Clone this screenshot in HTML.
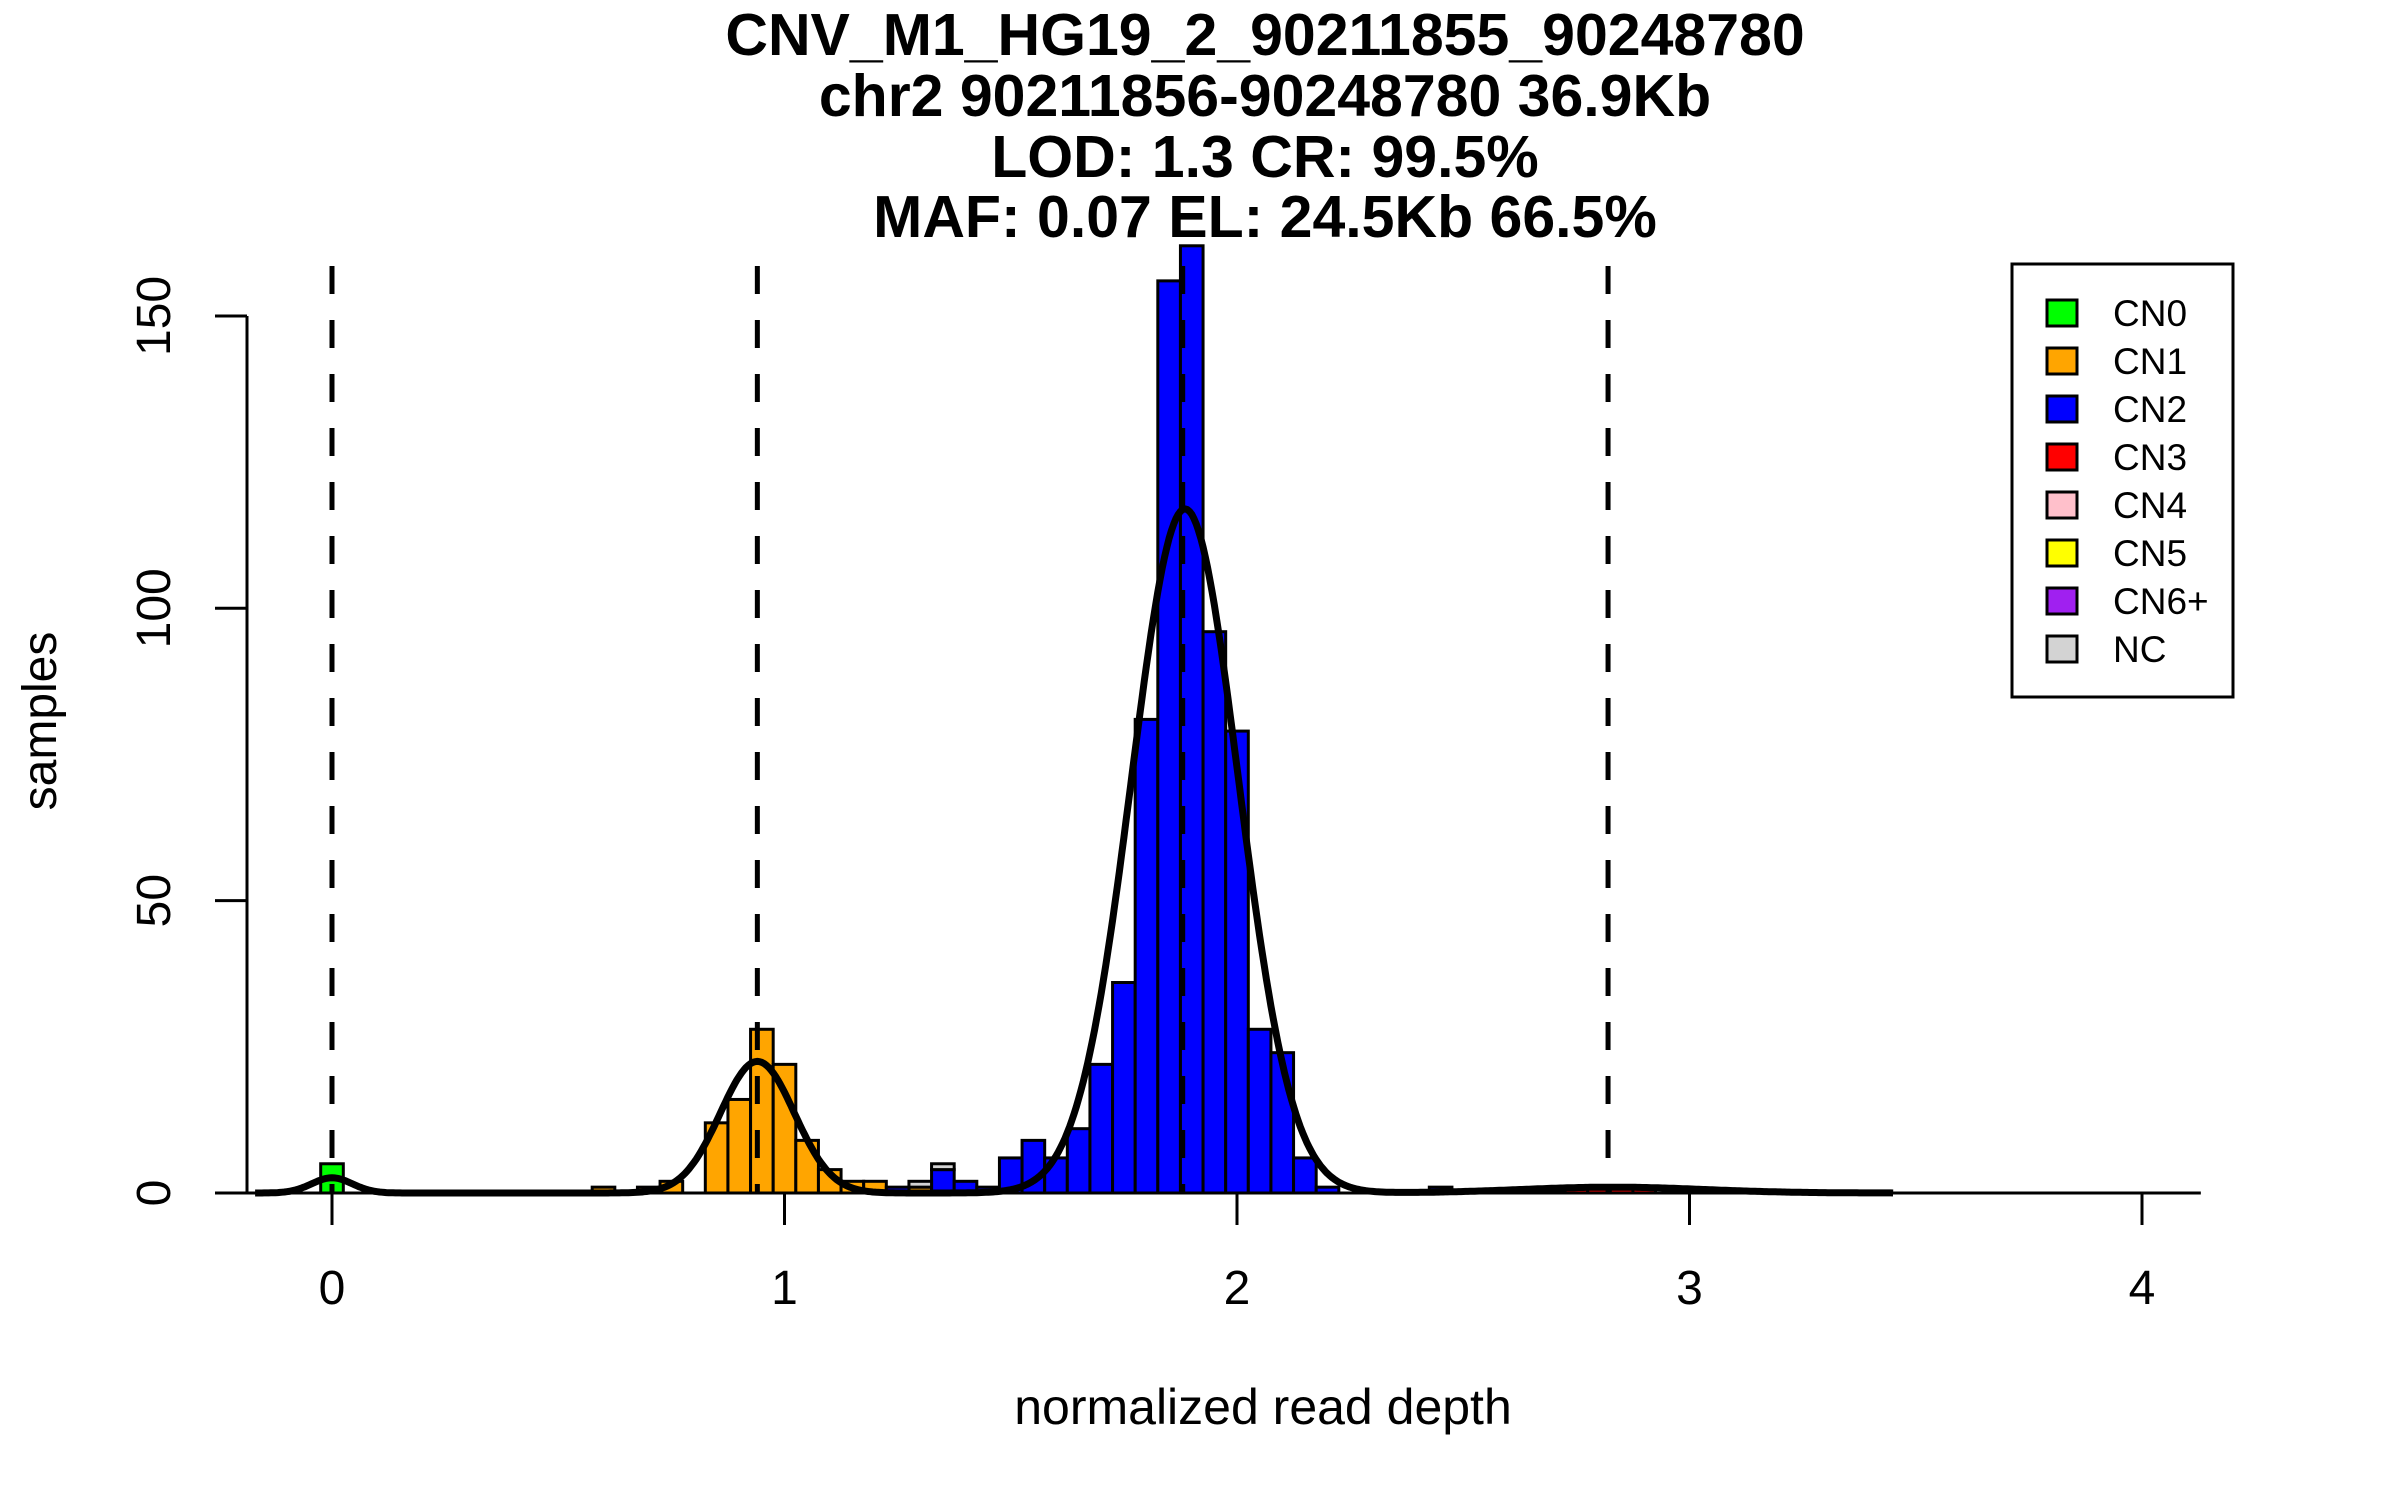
<!DOCTYPE html>
<html><head><meta charset="utf-8"><style>
html,body{margin:0;padding:0;background:#fff;}
svg{display:block;font-family:"Liberation Sans",sans-serif;}
</style></head><body>
<svg id="chart" width="2400" height="1500" viewBox="0 0 2400 1500" xmlns="http://www.w3.org/2000/svg">
<rect width="2400" height="1500" fill="#fff"/>
<g font-weight="bold" font-size="59" text-anchor="middle" fill="#000">
<text x="1265" y="55">CNV_M1_HG19_2_90211855_90248780</text>
<text x="1265" y="116">chr2 90211856-90248780 36.9Kb</text>
<text x="1265" y="177">LOD: 1.3 CR: 99.5%</text>
<text x="1265" y="237">MAF: 0.07 EL: 24.5Kb 66.5%</text>
</g>
<g id="bars"></g>
<g id="vlines"></g>
<g id="curve"></g>
<g id="axes"></g>
<text x="1263" y="1424" font-size="50" text-anchor="middle">normalized read depth</text>
<text transform="translate(56,721) rotate(-90)" font-size="48" text-anchor="middle">samples</text>
<g id="legend">
<rect x="2012" y="264" width="221" height="433" fill="#fff" stroke="#000" stroke-width="3"/>
</g>
</svg>
<script>
// ---- data ----
const binWidth = 0.05;
const cn0Bins = [0.0];
const cn0Counts = [5];
const cn1Bins = [0.6, 0.7, 0.75, 0.85, 0.9, 0.95, 1.0, 1.05, 1.1, 1.15, 1.2, 1.3];
const cn1Counts = [1, 1, 2, 12, 16, 28, 22, 9, 4, 2, 2, 1];
const cn2Bins = [1.25, 1.35, 1.4, 1.45, 1.5, 1.55, 1.6, 1.65, 1.7, 1.75, 1.8, 1.85, 1.9, 1.95, 2.0, 2.05, 2.1, 2.15, 2.2, 2.45];
const cn2Counts = [1, 4, 2, 1, 6, 9, 6, 11, 22, 36, 81, 156, 162, 96, 79, 28, 24, 6, 1, 1];
const cn3Bins = [2.75, 2.8, 2.85, 2.9];
const cn3Counts = [1, 1, 1, 1];
const ncBins = [1.3, 1.35];
const ncCounts = [1, 1];
const densMeans = [0.0, 0.94, 1.885, 2.83];
const densSds = [0.045, 0.082, 0.118, 0.2];
const densPeaks = [2.6, 22.5, 117, 1.0];
const cnLines = [0.0, 0.94, 1.88, 2.82];
const xTicks = [0, 1, 2, 3, 4];
const yTicks = [0, 50, 100, 150];
const legendLabels = ["CN0","CN1","CN2","CN3","CN4","CN5","CN6+","NC"];
const legendColors = ["#00FF00","#FFA500","#0000FF","#FF0000","#FFC0CB","#FFFF00","#A020F0","#D3D3D3"];

// ---- scales ----
const NS = "http://www.w3.org/2000/svg";
function X(v){ return 332 + 452.5 * v; }
function Y(v){ return 1193 - 5.847 * v; }
function mk(tag, attrs, parent){
  const e = document.createElementNS(NS, tag);
  for (const k in attrs) e.setAttribute(k, attrs[k]);
  parent.appendChild(e); return e;
}

// ---- bars (stacked) ----
const barsG = document.getElementById('bars');
const stackBase = {};
const series = [[cn0Bins,cn0Counts,legendColors[0],'cn0'],[cn1Bins,cn1Counts,legendColors[1],'cn1'],
  [cn2Bins,cn2Counts,legendColors[2],'cn2'],[cn3Bins,cn3Counts,legendColors[3],'cn3'],[ncBins,ncCounts,legendColors[7],'nc']];
series.forEach(s => {
  s[0].forEach((b, i) => {
    const key = b.toFixed(2);
    const base = stackBase[key] || 0;
    const top = base + s[1][i];
    const r = mk('rect', {x: X(b - binWidth/2), y: Y(top), width: X(b + binWidth/2) - X(b - binWidth/2),
      height: Y(base) - Y(top), fill: s[2], stroke: '#000', 'stroke-width': 3}, barsG);
    
    
    stackBase[key] = top;
  });
});

// ---- copy-number dashed lines ----
const vG = document.getElementById('vlines');
cnLines.forEach((v, i) => {
  const l = mk('line', {x1: X(v), x2: X(v), y1: 266, y2: Y(0), stroke: '#000', 'stroke-width': 5, 'stroke-dasharray': '28 26'}, vG);
  
  
});

// ---- density curve ----
const cG = document.getElementById('curve');
const base = mk('line', {x1: X(-0.2), x2: X(4.13), y1: Y(0), y2: Y(0), stroke: '#000', 'stroke-width': 3}, cG);


let d = '';
for (let k = 0; k <= 724; k++) {
  const v = -0.17 + k * 0.005;
  let y = 0;
  for (let j = 0; j < densMeans.length; j++) y += densPeaks[j] * Math.exp(-0.5 * Math.pow((v - densMeans[j]) / densSds[j], 2));
  d += (k ? 'L' : 'M') + X(v).toFixed(1) + ',' + Y(y).toFixed(1);
}
const p = mk('path', {d: d, fill: 'none', stroke: '#000', 'stroke-width': 7, 'stroke-linejoin': 'round'}, cG);



// ---- axes ----
const aG = document.getElementById('axes');
const ya = mk('line', {x1: 247, x2: 247, y1: Y(0), y2: Y(150), stroke: '#000', 'stroke-width': 3}, aG);


yTicks.forEach(t => {
  const tl = mk('line', {x1: 215, x2: 247, y1: Y(t), y2: Y(t), stroke: '#000', 'stroke-width': 3}, aG);
  
  
  const tx = mk('text', {transform: 'translate(170,' + Y(t) + ') rotate(-90)', 'font-size': 48, 'text-anchor': 'middle'}, aG);
  tx.textContent = String(t);
  
  
});
xTicks.forEach(t => {
  const tl = mk('line', {x1: X(t), x2: X(t), y1: Y(0), y2: Y(0) + 32, stroke: '#000', 'stroke-width': 3}, aG);
  
  
  const tx = mk('text', {x: X(t), y: 1304, 'font-size': 48, 'text-anchor': 'middle'}, aG);
  tx.textContent = String(t);
  
  
});

// ---- legend ----
const lG = document.getElementById('legend');
legendLabels.forEach((lab, i) => {
  const cy = 313 + 48 * i;
  const sw = mk('rect', {x: 2047, y: cy - 13, width: 30, height: 26, fill: legendColors[i], stroke: '#000', 'stroke-width': 3}, lG);
  
  
  const tx = mk('text', {x: 2113, y: cy + 13, 'font-size': 37}, lG);
  tx.textContent = lab;
  
  
});
</script>
</body></html>
